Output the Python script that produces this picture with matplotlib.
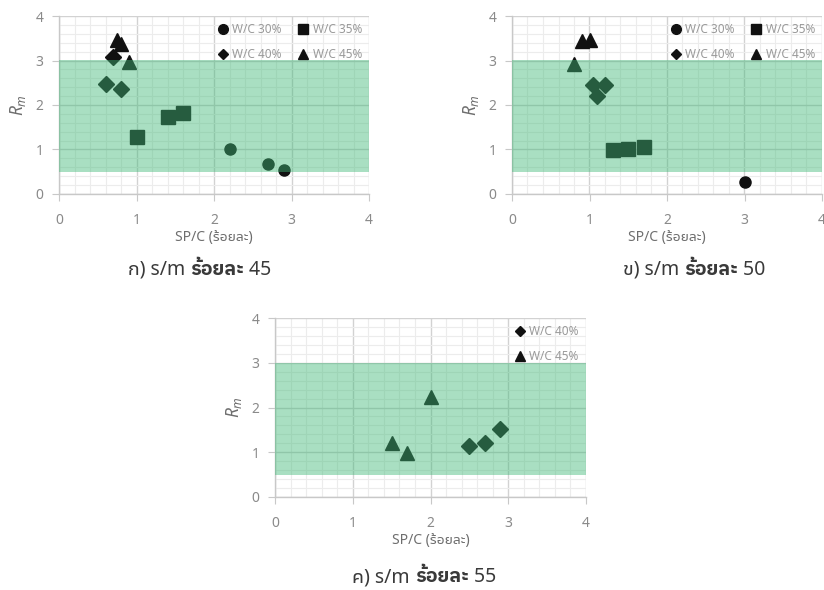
import matplotlib
matplotlib.use('Agg')
from matplotlib import pyplot as plt
from matplotlib import font_manager
from matplotlib.ticker import MultipleLocator
from matplotlib.offsetbox import TextArea, HPacker, AnnotationBbox

plt.rcParams['font.family'] = ['Noto Sans', 'Noto Sans Thai UI', 'DejaVu Sans']
plt.rcParams['mathtext.fontset'] = 'custom'
plt.rcParams['mathtext.it'] = 'Noto Sans:italic'
plt.rcParams['mathtext.rm'] = 'Noto Sans'

# data: (SP/C %, Rm) per W/C group
# panel a) s/m 45%
a_wc30_x = [2.2, 2.7, 2.9]
a_wc30_y = [1.0, 0.67, 0.55]
a_wc35_x = [1.0, 1.4, 1.6]
a_wc35_y = [1.28, 1.73, 1.82]
a_wc40_x = [0.6, 0.7, 0.8]
a_wc40_y = [2.48, 3.08, 2.37]
a_wc45_x = [0.75, 0.8, 0.9]
a_wc45_y = [3.45, 3.38, 2.97]

# panel b) s/m 50%
b_wc30_x = [3.0]
b_wc30_y = [0.27]
b_wc35_x = [1.3, 1.5, 1.7]
b_wc35_y = [0.99, 1.01, 1.06]
b_wc40_x = [1.05, 1.1, 1.2]
b_wc40_y = [2.45, 2.2, 2.45]
b_wc45_x = [0.8, 0.9, 1.0]
b_wc45_y = [2.93, 3.43, 3.45]

# panel c) s/m 55%
c_wc40_x = [2.5, 2.7, 2.9]
c_wc40_y = [1.15, 1.2, 1.53]
c_wc45_x = [1.5, 1.7, 2.0]
c_wc45_y = [1.2, 0.98, 2.23]

band_lo, band_hi = 0.5, 3.0

series_labels = ['W/C 30%', 'W/C 35%', 'W/C 40%', 'W/C 45%']
markers = {'W/C 30%': ('o', 8), 'W/C 35%': ('s', 9.5), 'W/C 40%': ('D', 8.5), 'W/C 45%': ('^', 9.5)}
legend_sizes = {'W/C 30%': 7, 'W/C 35%': 7, 'W/C 40%': 5.5, 'W/C 45%': 6.5}

# thai font that really has a bold file, for the bold word in the captions
bold_thai = 'Noto Sans Thai UI'
for cand in ['Noto Sans Thai UI', 'Noto Sans Thai', 'IBM Plex Sans Thai', 'Sarabun', 'Prompt']:
    try:
        p = font_manager.findfont(font_manager.FontProperties(family=cand, weight='bold'), fallback_to_default=False)
    except Exception:
        continue
    if 'bold' in p.lower():
        bold_thai = cand
        break

fig = plt.figure(figsize=(8.24, 5.9), dpi=100)


def setup_axes(ax):
    ax.set_xlim(0, 4)
    ax.set_ylim(0, 4)
    ax.xaxis.set_major_locator(MultipleLocator(1))
    ax.yaxis.set_major_locator(MultipleLocator(1))
    ax.xaxis.set_minor_locator(MultipleLocator(0.2))
    ax.yaxis.set_minor_locator(MultipleLocator(0.2))
    ax.grid(which='major', color='#d2d2d2', linewidth=1.0, zorder=0)
    ax.grid(which='minor', color='#ececec', linewidth=0.8, zorder=0)
    ax.set_axisbelow(True)
    for s in ['top', 'right']:
        ax.spines[s].set_visible(False)
    for s in ['left', 'bottom']:
        ax.spines[s].set_color('#c8c8c8')
        ax.spines[s].set_linewidth(1.0)
    ax.tick_params(which='major', length=5, color='#c8c8c8', labelcolor='#8a8a8a', labelsize=10)
    ax.tick_params(axis='x', which='major', pad=9)
    ax.tick_params(axis='y', which='major', pad=6)
    ax.tick_params(which='minor', length=0)
    ax.axhspan(band_lo, band_hi, color='#41b978', alpha=0.45, linewidth=0, zorder=3)
    ax.set_xlabel('SP/C (ร้อยละ)', color='#6e6e6e', fontsize=10, labelpad=1)
    ax.set_ylabel('$R_m$', color='#6e6e6e', fontsize=12.5, labelpad=6)


def plot_group(ax, xs, ys, label):
    m, ms = markers[label]
    return ax.plot(xs, ys, linestyle='none', marker=m, markersize=ms, color='#111111', label=label, zorder=2)[0]


def add_legend(ax, handles, ncol):
    leg = ax.legend(handles, [h.get_label() for h in handles],
                    ncol=ncol, loc='upper right', frameon=False, fontsize=8.5, labelcolor='#999999',
                    handletextpad=0.4, columnspacing=1.4, labelspacing=1.0,
                    borderaxespad=0.2, handlelength=0.8)
    for lh, h in zip(leg.legend_handles, handles):
        lh.set_markersize(legend_sizes[h.get_label()])


def caption(x, y, prefix, num):
    props = dict(size=14, color='#3a3a3a')
    parts = [TextArea(prefix, textprops=props),
             TextArea('ร้อยละ', textprops=dict(props, weight='bold', family=[bold_thai, 'Noto Sans Thai UI'])),
             TextArea(' ' + num, textprops=props)]
    box = HPacker(children=parts, pad=0, sep=0, align='baseline')
    ab = AnnotationBbox(box, (x, y), xycoords='figure fraction', frameon=False, box_alignment=(0.5, 0.5))
    fig.add_artist(ab)


# panel a
ax1 = fig.add_axes([59 / 824, 1 - 194 / 590, 310 / 824, 178 / 590])
setup_axes(ax1)
h30 = plot_group(ax1, a_wc30_x, a_wc30_y, series_labels[0])
h35 = plot_group(ax1, a_wc35_x, a_wc35_y, series_labels[1])
h40 = plot_group(ax1, a_wc40_x, a_wc40_y, series_labels[2])
h45 = plot_group(ax1, a_wc45_x, a_wc45_y, series_labels[3])
add_legend(ax1, [h30, h40, h35, h45], 2)

# panel b
ax2 = fig.add_axes([512 / 824, 1 - 194 / 590, 310 / 824, 178 / 590])
setup_axes(ax2)
h30 = plot_group(ax2, b_wc30_x, b_wc30_y, series_labels[0])
h35 = plot_group(ax2, b_wc35_x, b_wc35_y, series_labels[1])
h40 = plot_group(ax2, b_wc40_x, b_wc40_y, series_labels[2])
h45 = plot_group(ax2, b_wc45_x, b_wc45_y, series_labels[3])
add_legend(ax2, [h30, h40, h35, h45], 2)

# panel c
ax3 = fig.add_axes([275 / 824, 1 - 497 / 590, 311 / 824, 179 / 590])
setup_axes(ax3)
h40 = plot_group(ax3, c_wc40_x, c_wc40_y, series_labels[2])
h45 = plot_group(ax3, c_wc45_x, c_wc45_y, series_labels[3])
add_legend(ax3, [h40, h45], 1)

caption(200 / 824, 1 - 270 / 590, 'ก) s/m ', '45')
caption(694 / 824, 1 - 270 / 590, 'ข) s/m ', '50')
caption(424 / 824, 1 - 577 / 590, 'ค) s/m ', '55')

fig.savefig('out.png', dpi=100)
